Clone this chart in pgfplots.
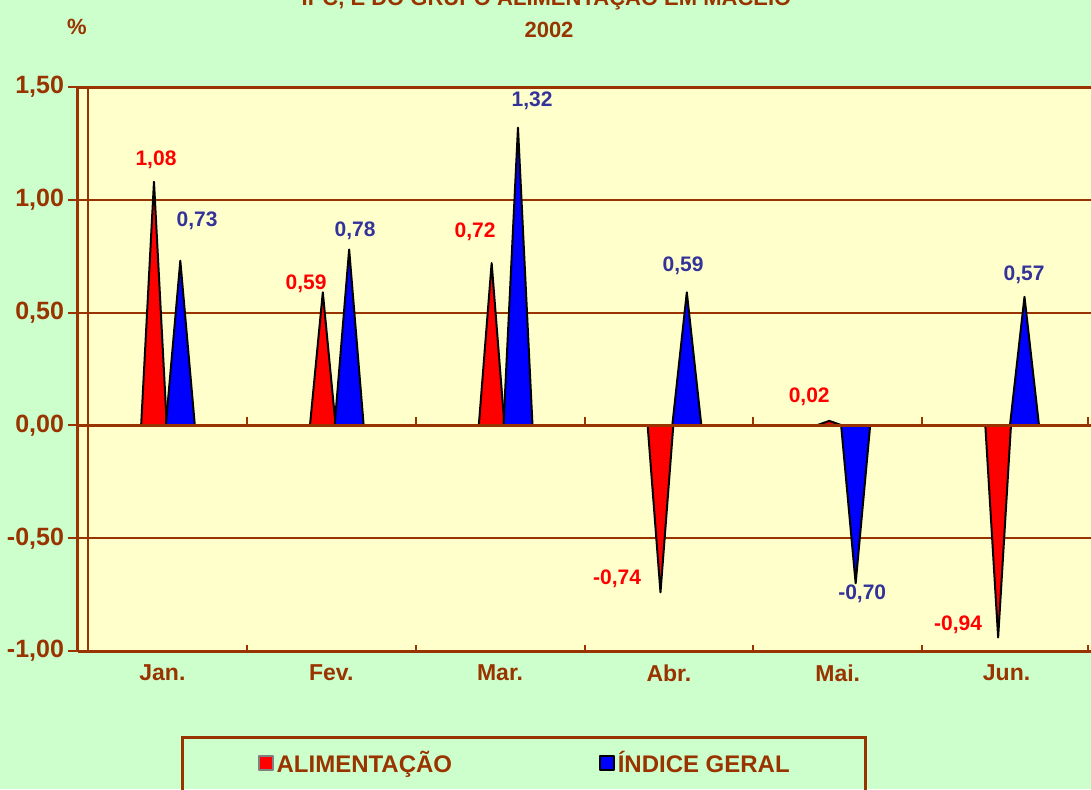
\documentclass[border=0pt]{standalone}
\usepackage{pgfplots}
\pgfplotsset{compat=1.18}
\usepackage{fontspec}
\setmainfont{Liberation Sans}

\definecolor{bggreen}{HTML}{CCFFCC}
\definecolor{plotyellow}{HTML}{FFFFCC}
\definecolor{brownline}{HTML}{993300}
\definecolor{labelblue}{HTML}{333399}
\definecolor{barred}{HTML}{FF0000}
\definecolor{barblue}{HTML}{0000FF}

\newcommand\axfont{\bfseries\fontsize{12.5}{14}\selectfont}
\newcommand\legfont{\bfseries\fontsize{12}{14}\selectfont}
\newcommand\catfont{\bfseries\fontsize{11.5}{13}\selectfont}
\newcommand\valfont{\bfseries\fontsize{10.5}{12}\selectfont}

\begin{document}
\begin{tikzpicture}
\path[use as bounding box] (0,0) rectangle (545.5pt,394.5pt);
\clip (0,0) rectangle (545.5pt,394.5pt);
\fill[bggreen] (0,0) rectangle (545.5pt,394.5pt);

% title (first line is cut by the top edge, as in the original)
\node[anchor=base, text=brownline, font=\bfseries\fontsize{11}{13}\selectfont]
  at (273.25pt,391.5pt) {IPC, E DO GRUPO ALIMENTAÇÃO EM MACEIÓ};
\node[text=brownline, font=\bfseries\fontsize{11}{13}\selectfont]
  at (274.5pt,379.5pt) {2002};
\node[text=brownline, font=\bfseries\fontsize{11}{13}\selectfont]
  at (38.5pt,381pt) {\%};

\begin{axis}[
  at={(39pt,69pt)}, anchor=south west,
  scale only axis, width=506.5pt, height=282pt,
  xmin=-0.5, xmax=5.5, ymin=-1, ymax=1.5,
  axis background/.style={fill=plotyellow},
  axis x line*=box, axis y line*=left,
  axis line style={brownline, line width=1.5pt},
  ytick={-1,-0.5,0,0.5,1,1.5},
  ymajorgrids, grid style={brownline, line width=1pt},
  tick align=outside, major tick length=5pt,
  ytick style={brownline, line width=1pt},
  yticklabel style={text=brownline, font=\axfont, xshift=1.5pt},
  /pgf/number format/.cd, fixed, fixed zerofill, precision=2, use comma,
  assume math mode=true, /pgfplots/.cd,
  xtick={0,1,2,3,4,5},
  xticklabels={Jan.,Fev.,Mar.,Abr.,Mai.,Jun.},
  xtick style={draw=none},
  xticklabel style={text=brownline, font=\catfont, yshift=1.5pt},
  unbounded coords=jump,
  legend columns=2,
  legend style={at={(axis description cs:0.1777,-0.1986)}, anchor=west,
    draw=none, fill=none, inner sep=0pt, text=brownline, font=\legfont,
    nodes={inner sep=1.5pt},
    /tikz/every even column/.append style={column sep=72pt}},
]

% ALIMENTACAO: triangles (left base, apex, right base)
\addplot[fill=barred, draw=black, line width=1pt, line join=round,
  legend image code/.code={\draw[fill=barred, draw=gray, line width=0.6pt] (0pt,-3.5pt) rectangle (7pt,3.5pt);}]
table {
x y
-0.126 0
-0.050 1.08
0.026 0
nan nan
0.874 0
0.950 0.59
1.026 0
nan nan
1.874 0
1.950 0.72
2.026 0
nan nan
2.874 0
2.950 -0.74
3.026 0
nan nan
3.874 0
3.950 0.02
4.026 0
nan nan
4.874 0
4.950 -0.94
5.026 0
};
\addlegendentry{ALIMENTAÇÃO}

% INDICE GERAL
\addplot[fill=barblue, draw=black, line width=1pt, line join=round,
  legend image code/.code={\draw[fill=barblue, draw=black, line width=0.8pt] (0pt,-3.5pt) rectangle (7pt,3.5pt);}]
table {
x y
0.020 0
0.106 0.73
0.192 0
nan nan
1.020 0
1.106 0.78
1.192 0
nan nan
2.020 0
2.106 1.32
2.192 0
nan nan
3.020 0
3.106 0.59
3.192 0
nan nan
4.020 0
4.106 -0.70
4.192 0
nan nan
5.020 0
5.106 0.57
5.192 0
};
\addlegendentry{ÍNDICE GERAL}

% category axis at zero and the wall edges
\draw[brownline, line width=1.5pt] (axis cs:-0.5,0) -- (axis cs:5.5,0);
\pgfplotsinvokeforeach{0.5,1.5,2.5,3.5,4.5,5.48}{
  \draw[brownline, line width=1pt] (axis cs:#1,0) -- ++(0pt,4pt);
  \draw[brownline, line width=1pt] (axis cs:#1,-1) -- ++(0pt,3pt);
}
\draw[brownline, line width=1pt] ([xshift=5pt]rel axis cs:0,0) -- ([xshift=5pt]rel axis cs:0,1);

% data labels
\node[text=barred, font=\valfont] at (axis cs:-0.038,1.176) {1,08};
\node[text=labelblue, font=\valfont] at (axis cs:0.205,0.906) {0,73};
\node[text=barred, font=\valfont] at (axis cs:0.851,0.627) {0,59};
\node[text=labelblue, font=\valfont] at (axis cs:1.141,0.862) {0,78};
\node[text=barred, font=\valfont] at (axis cs:1.852,0.857) {0,72};
\node[text=labelblue, font=\valfont] at (axis cs:2.190,1.438) {1,32};
\node[text=barred, font=\valfont] at (axis cs:2.693,-0.681) {-0,74};
\node[text=labelblue, font=\valfont] at (axis cs:3.084,0.707) {0,59};
\node[text=barred, font=\valfont] at (axis cs:3.831,0.126) {0,02};
\node[text=labelblue, font=\valfont] at (axis cs:4.145,-0.747) {-0,70};
\node[text=barred, font=\valfont] at (axis cs:4.713,-0.885) {-0,94};
\node[text=labelblue, font=\valfont] at (axis cs:5.104,0.667) {0,57};
\end{axis}

% legend frame
\draw[brownline, line width=1.5pt] (91pt,26pt) rectangle (432.5pt,-5pt);
\end{tikzpicture}
\end{document}
